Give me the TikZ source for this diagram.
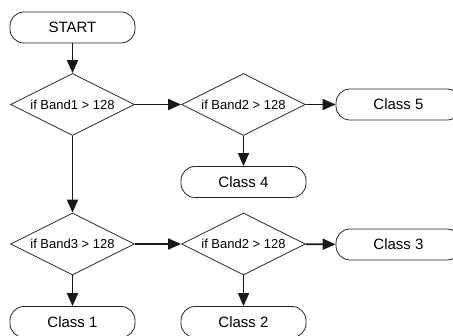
\documentclass[tikz,border=0pt]{standalone}
\usepackage{fontspec}
\setmainfont{Liberation Sans}
\usetikzlibrary{shapes.geometric,arrows.meta}
\begin{document}
\begin{tikzpicture}[x=1pt,y=-1pt,
  termbox/.style={draw=black!85,line width=0.8pt,rounded corners=14pt,minimum width=125pt,minimum height=31pt,inner sep=0pt,font=\fontsize{15}{18}\selectfont},
  decide/.style={draw=black!85,line width=0.8pt,diamond,aspect=2,minimum width=124pt,minimum height=62pt,inner sep=0pt,font=\fontsize{13}{15}\selectfont},
  flow/.style={line width=1.8pt,black!90,-{Triangle[length=13pt,width=11pt]}}]
\useasboundingbox (0,0) rectangle (453,336);
\begin{scope}
\clip (0,0) rectangle (453,336);
\node[termbox] (start) at (72.5,27.5) {START};
\node[decide] (d1) at (72.5,104.5) {if Band1 > 128};
\node[decide] (d2) at (243.5,104.5) {if Band2 > 128};
\node[termbox] (c5) at (398.5,104.5) {Class 5};
\node[termbox] (c4) at (243.5,182) {Class 4};
\node[decide] (d3) at (72.5,244) {if Band3 > 128};
\node[decide] (d4) at (243.5,244) {if Band2 > 128};
\node[termbox] (c3) at (398.5,244.5) {Class 3};
\node[termbox] (c1) at (72.5,322) {Class 1};
\node[termbox] (c2) at (243.5,322) {Class 2};
\draw[flow] (start) -- (d1);
\draw[flow] (d1) -- (d2);
\draw[flow] (d2) -- (c5);
\draw[flow] (d2) -- (c4);
\draw[flow] (d1) -- (d3);
\draw[flow] (d3) -- (d4);
\draw[flow] (d4) -- (c3);
\draw[flow] (d3) -- (c1);
\draw[flow] (d4) -- (c2);
\end{scope}
\end{tikzpicture}
\end{document}
